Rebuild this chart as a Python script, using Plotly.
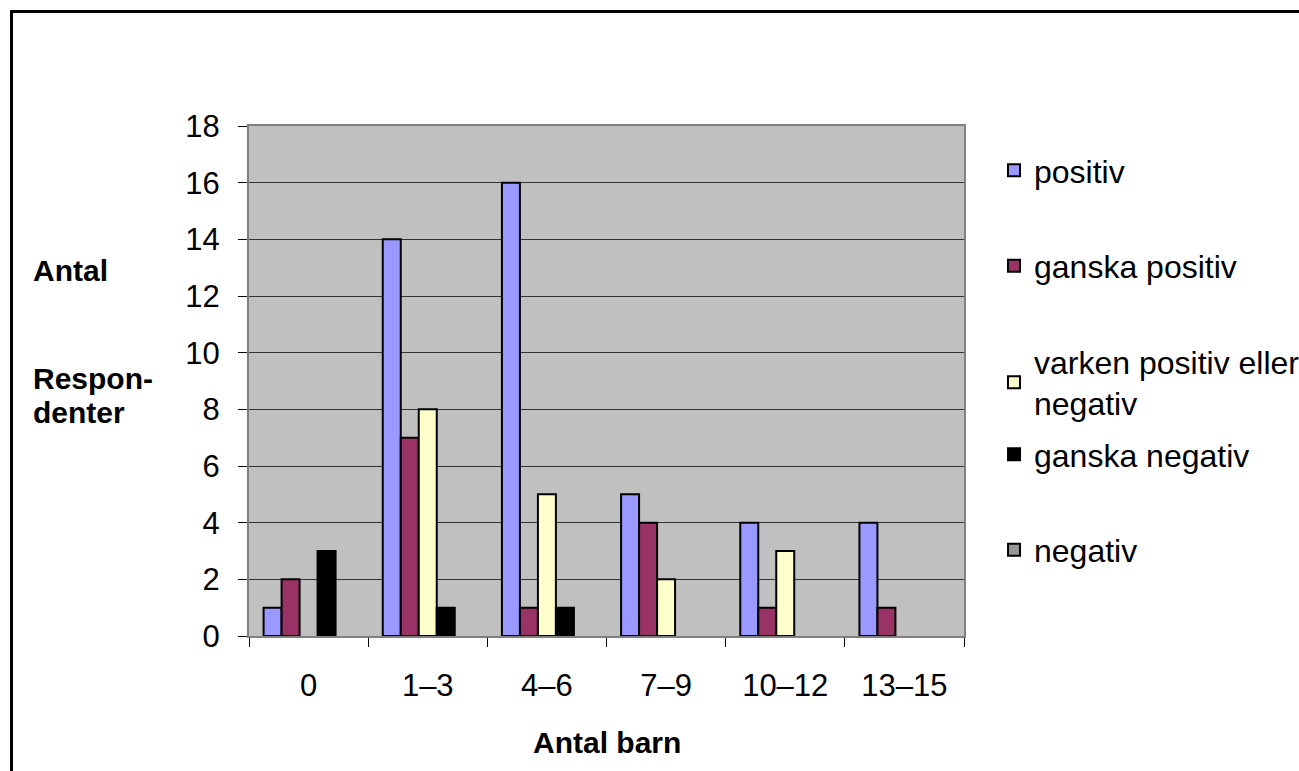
import plotly.graph_objects as go

categories = ["0", "1–3", "4–6", "7–9", "10–12", "13–15"]
series_names = ["positiv", "ganska positiv", "varken positiv eller<br>negativ", "ganska negativ", "negativ"]
positiv = [1, 14, 16, 5, 4, 4]
ganska_positiv = [2, 7, 1, 4, 1, 1]
varken = [0, 8, 5, 2, 3, 0]
ganska_negativ = [3, 1, 1, 0, 0, 0]
negativ = [0, 0, 0, 0, 0, 0]
y_ticks = [0, 2, 4, 6, 8, 10, 12, 14, 16, 18]

colors = ["#9999FF", "#993366", "#FFFFCC", "#000000", "#969696"]
legend_refs = ["legend", "legend", "legend", "legend2", "legend2"]
FONT = "Arial, Liberation Sans, Helvetica, sans-serif"

fig = go.Figure()
for i, (name, vals) in enumerate(zip(series_names, [positiv, ganska_positiv, varken, ganska_negativ, negativ])):
    fig.add_trace(go.Bar(
        x=categories, y=[v if v != 0 else None for v in vals], name=name,
        marker=dict(color=colors[i], line=dict(color="#000000", width=2)),
        legendgroup=str(i), legend=legend_refs[i],
    ))

legend_common = dict(xanchor="left", yanchor="top", font=dict(size=32),
                     tracegroupgap=51, bgcolor="rgba(0,0,0,0)", itemwidth=30)
fig.update_layout(
    width=1299, height=771,
    margin=dict(l=249, r=335, t=126, b=135, autoexpand=False),
    paper_bgcolor="white", plot_bgcolor="#C0C0C0",
    barmode="group", bargap=0.245, bargroupgap=0,
    font=dict(family=FONT, size=31, color="#000000"),
    legend=dict(x=1.042, y=0.967, **legend_common),
    legend2=dict(x=1.042, y=0.41, **legend_common),
    showlegend=True,
)
fig.update_xaxes(
    type="category", showgrid=False, ticks="outside", tickson="boundaries", ticklen=9,
    tickcolor="#000", showline=True, linecolor="#808080", linewidth=2, mirror=True,
    ticklabelstandoff=21,
)
fig.update_yaxes(
    range=[0, 18], tickvals=y_ticks, ticks="outside", ticklen=9, tickcolor="#000",
    showgrid=True, gridcolor="#333333", gridwidth=1,
    showline=True, linecolor="#808080", linewidth=2, mirror=True,
    ticklabelstandoff=12, zeroline=False,
)

# axis titles
TX = -0.305
fig.add_annotation(text="<b>Antal barn</b>", xref="paper", yref="paper", x=0.5, y=-0.208,
                   xanchor="center", yanchor="middle", showarrow=False, font=dict(size=30))
fig.add_annotation(text="<b>Antal</b>", xref="paper", yref="paper", x=TX, y=(636-270)/510,
                   xanchor="left", yanchor="middle", showarrow=False, font=dict(size=30))
fig.add_annotation(text="<b>Respon-</b>", xref="paper", yref="paper", x=TX, y=(636-378)/510,
                   xanchor="left", yanchor="middle", showarrow=False, font=dict(size=30))
fig.add_annotation(text="<b>denter</b>", xref="paper", yref="paper", x=TX, y=(636-412)/510,
                   xanchor="left", yanchor="middle", showarrow=False, font=dict(size=30))

# outer frame
fig.add_shape(type="rect", xref="paper", yref="paper",
              x0=(11.5-249)/715, x1=(1320-249)/715, y0=(636-800)/510, y1=(636-11.5)/510,
              line=dict(color="#000", width=3), fillcolor="rgba(0,0,0,0)")

fig.write_html("out.html", config={"displayModeBar": False},
               post_script="document.body.style.margin='0';document.body.style.overflow='hidden';")
